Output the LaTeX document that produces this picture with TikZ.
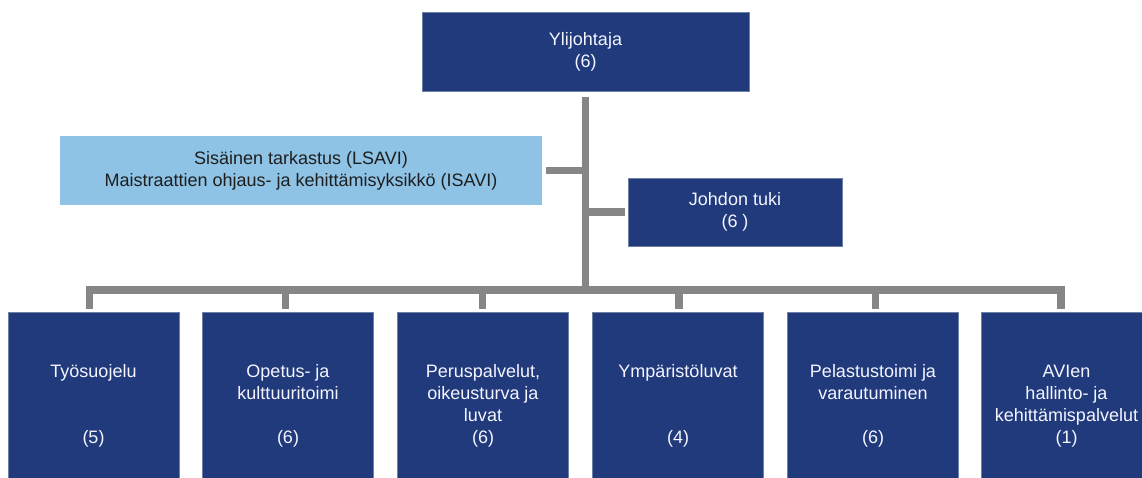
\documentclass[tikz,border=0pt]{standalone}
\usepackage{fontspec}
\setmainfont{Liberation Sans}
\definecolor{darkblue}{RGB}{32,58,123}
\definecolor{lightblue}{RGB}{142,195,230}
\definecolor{conngray}{RGB}{134,134,134}
\definecolor{darktext}{RGB}{30,30,30}
\definecolor{edgeblue}{RGB}{110,128,165}
\begin{document}
\begin{tikzpicture}[x=1pt,y=-1pt,
  txt/.style={font=\fontsize{18}{22}\selectfont, align=center, inner sep=0pt},
  dbox/.style={txt, rectangle, fill=darkblue, draw=edgeblue, line width=0.6pt, text=white!96!blue},
  lbox/.style={txt, rectangle, fill=lightblue, text=darktext},
  bbox/.style={dbox, minimum width=171pt, minimum height=187pt, anchor=north},
  conn/.style={draw=conngray, line width=7.3pt, line join=miter}]
\useasboundingbox (0,0) rectangle (1142,477);
\fill[white] (0,0) rectangle (1142,477);
\clip (0,0) rectangle (1142,477);

\node[dbox, minimum width=327pt, minimum height=79pt] (yl) at (585.5,52.2) {Ylijohtaja\\(6)};
\node[lbox, minimum width=482pt, minimum height=69pt] (sis) at (301,170.5)
  {Sisäinen tarkastus (LSAVI)\\Maistraattien ohjaus- ja kehittämisyksikkö (ISAVI)};
\node[dbox, minimum width=214pt, minimum height=68pt] (jt) at (735,212) {Johdon tuki\\(6 )};

\node[bbox] (b1) at (93.5,312) {Työsuojelu\\\strut\\\strut\\(5)};
\node[bbox] (b2) at (288,312) {Opetus- ja\\kulttuuritoimi\\\strut\\(6)};
\node[bbox] (b3) at (483,312) {Peruspalvelut,\\oikeusturva ja\\luvat\\(6)};
\node[bbox] (b4) at (678,312) {Ympäristöluvat\\\strut\\\strut\\(4)};
\node[bbox] (b5) at (873,312) {Pelastustoimi ja\\varautuminen\\\strut\\(6)};
\node[bbox] (b6) at (1066.5,312) {AVIen\\hallinto- ja\\kehittämispalvelut\\(1)};

\coordinate (tTop) at ([yshift=-5.3pt]yl.south);
\coordinate (busC) at (585.5,290);

\draw[conn] (tTop) -- (busC);
\draw[conn] ([xshift=4pt]sis.east) -- (sis.east -| tTop);
\draw[conn] (jt.west -| tTop) -- ([xshift=-3pt]jt.west);
\draw[conn] ([xshift=-4pt,yshift=3.3pt]b1.north) |- (busC) -| ([xshift=-5.5pt,yshift=3.3pt]b6.north);
\draw[conn] ([xshift=-2.5pt,yshift=3.3pt]b2.north) -- ([xshift=-2.5pt]b2.north |- busC);
\draw[conn] ([xshift=-0.5pt,yshift=3.3pt]b3.north) -- ([xshift=-0.5pt]b3.north |- busC);
\draw[conn] ([xshift=1pt,yshift=3.3pt]b4.north) -- ([xshift=1pt]b4.north |- busC);
\draw[conn] ([xshift=2.5pt,yshift=3.3pt]b5.north) -- ([xshift=2.5pt]b5.north |- busC);
\end{tikzpicture}
\end{document}
